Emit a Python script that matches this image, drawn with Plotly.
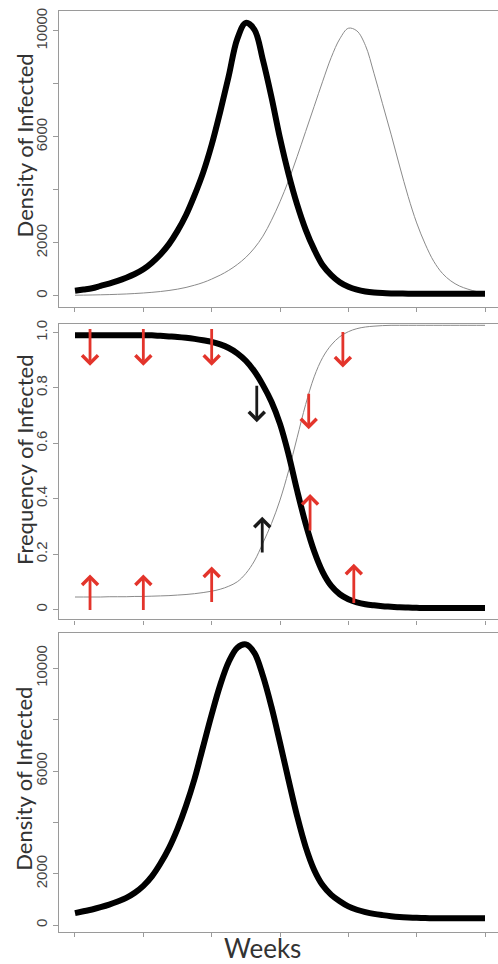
import plotly.graph_objects as go

# ---------------- data ----------------
weeks = [0, 0.125, 0.25, 0.375, 0.5, 0.625, 0.75, 0.875,
         1.0, 1.125, 1.25, 1.375, 1.5, 1.625, 1.75, 1.875,
         2.0, 2.125, 2.25, 2.375, 2.5, 2.625, 2.75, 2.875,
         3.0, 3.125, 3.25, 3.375, 3.5, 3.625, 3.75, 3.875,
         4.0, 4.125, 4.25, 4.375, 4.5, 4.625, 4.75, 4.875,
         5.0, 5.125, 5.25, 5.375, 5.5, 5.625, 5.75, 5.875, 6.0]

# Panel 1: density of infected (two strains)
dens_thick = [190, 235, 285, 375, 460, 560, 680, 820,
              1000, 1250, 1560, 1950, 2450, 3050, 3800, 4650,
              5700, 6950, 8300, 9700, 10300, 10050, 8900, 7500,
              5950, 4600, 3450, 2500, 1750, 1150, 780, 510,
              340, 230, 160, 120, 100, 90, 85, 80,
              80, 80, 80, 80, 80, 80, 80, 80, 80]
dens_thin = [20, 25, 30, 37, 45, 55, 68, 85,
             105, 130, 160, 200, 250, 315, 400, 500,
             630, 780, 960, 1180, 1450, 1800, 2250, 2850,
             3550, 4350, 5250, 6200, 7150, 8100, 9000, 9700,
             10100, 10000, 9450, 8400, 7250, 6100, 4900, 3750,
             2750, 1950, 1300, 850, 560, 370, 250, 160, 100]

# Panel 2: frequency of infected
freq_thick = [0.99, 0.99, 0.99, 0.99, 0.99, 0.99, 0.99, 0.99,
              0.99, 0.99, 0.988, 0.986, 0.984, 0.981, 0.977, 0.972,
              0.966, 0.957, 0.944, 0.925, 0.898, 0.86, 0.81, 0.75,
              0.67, 0.56, 0.43, 0.31, 0.21, 0.135, 0.085, 0.055,
              0.037, 0.026, 0.019, 0.015, 0.012, 0.010, 0.008, 0.007,
              0.006, 0.005, 0.005, 0.005, 0.005, 0.005, 0.005, 0.005, 0.005]
freq_thin = [0.045, 0.045, 0.045, 0.045, 0.046, 0.046, 0.046, 0.047,
             0.047, 0.048, 0.049, 0.050, 0.052, 0.054, 0.057, 0.061,
             0.066, 0.073, 0.084, 0.100, 0.130, 0.175, 0.240, 0.310,
             0.395, 0.500, 0.620, 0.740, 0.840, 0.910, 0.955, 0.985,
             1.003, 1.014, 1.020, 1.023, 1.025, 1.026, 1.026, 1.026,
             1.026, 1.026, 1.026, 1.026, 1.026, 1.026, 1.026, 1.026, 1.026]

# Panel 3: density of infected (single)
dens_single = [470, 540, 610, 700, 800, 920, 1060, 1260,
               1530, 1900, 2400, 3000, 3750, 4650, 5700, 6950,
               8200, 9350, 10250, 10800, 10930, 10600, 9700, 8500,
               7100, 5650, 4250, 3050, 2150, 1550, 1180, 930,
               730, 600, 510, 440, 390, 350, 320, 300,
               285, 275, 270, 265, 265, 265, 265, 265, 265]

# Arrows in panel 2: (week, tail freq, head freq, colour)
arrow_week = [0.22, 1.0, 2.0, 3.92, 3.42, 0.22, 1.0, 2.0, 3.44, 4.08, 2.66, 2.74]
arrow_tail = [1.018, 1.018, 1.018, 1.007, 0.784, -0.007, -0.007, 0.022, 0.28, 0.018, 0.813, 0.20]
arrow_head = [0.88, 0.88, 0.88, 0.874, 0.651, 0.126, 0.126, 0.155, 0.417, 0.165, 0.676, 0.335]
arrow_color = ["red"] * 10 + ["black"] * 2

density_ticks = [0, 2000, 4000, 6000, 8000, 10000]
density_ticktext = ["0", "2000", "", "6000", "", "10000"]
freq_ticks = [0, 0.2, 0.4, 0.6, 0.8, 1.0]
freq_ticktext = ["0", "0.2", "0.4", "0.6", "0.8", "1.0"]
week_ticks = [0, 1, 2, 3, 4, 5, 6]

# ---------------- figure ----------------
W, H = 498, 964
AX = "#9a9a9a"
THIN = "#8a8a8a"
RED = "#e3342b"
TICKFONT = dict(family="Liberation Sans, Arial, sans-serif", size=15, color="#444")
TITLEFONT = dict(family="Lato, Open Sans, sans-serif", size=22, color="#333")

fig = go.Figure()

fig.add_trace(go.Scatter(x=weeks, y=dens_thin, mode="lines", line=dict(color=THIN, width=1, shape="spline"),
                         xaxis="x", yaxis="y", showlegend=False))
fig.add_trace(go.Scatter(x=weeks, y=dens_thick, mode="lines", line=dict(color="black", width=6, shape="spline"),
                         xaxis="x", yaxis="y", showlegend=False))
fig.add_trace(go.Scatter(x=weeks, y=freq_thin, mode="lines", line=dict(color=THIN, width=1, shape="spline"),
                         xaxis="x2", yaxis="y2", showlegend=False))
fig.add_trace(go.Scatter(x=weeks, y=freq_thick, mode="lines", line=dict(color="black", width=6, shape="spline"),
                         xaxis="x2", yaxis="y2", showlegend=False))
fig.add_trace(go.Scatter(x=weeks, y=dens_single, mode="lines", line=dict(color="black", width=6, shape="spline"),
                         xaxis="x3", yaxis="y3", showlegend=False))

xr = [-0.234, 6.19]
xdom = [59 / W, 1.0]


def pdom(top, bottom):
    return [1 - bottom / H, 1 - top / H]


def xax(anchor):
    return dict(domain=xdom, range=xr, anchor=anchor, showgrid=False, zeroline=False,
                showline=True, linecolor=AX, linewidth=1.3, mirror=True,
                ticks="outside", ticklen=4, tickcolor=AX, tickvals=week_ticks, showticklabels=False)


def yax(anchor, dom, rng, tv, tt):
    return dict(domain=dom, range=rng, anchor=anchor, showgrid=False, zeroline=False,
                showline=True, linecolor=AX, linewidth=1.3, mirror=False,
                ticks="outside", ticklen=5, tickcolor=AX, tickvals=tv, ticktext=tt,
                tickangle=-90, tickfont=TICKFONT)


fig.update_layout(
    width=W, height=H, margin=dict(l=0, r=0, t=0, b=0),
    paper_bgcolor="white", plot_bgcolor="white", showlegend=False,
    xaxis=xax("y"), xaxis2=xax("y2"), xaxis3=xax("y3"),
    yaxis=yax("x", pdom(7, 304), [-414, 10752], density_ticks, density_ticktext),
    yaxis2=yax("x2", pdom(321, 618), [-0.036, 1.032], freq_ticks, freq_ticktext),
    yaxis3=yax("x3", pdom(632, 932), [-271, 11357], density_ticks, density_ticktext),
)

annotations = []
for wk, t, h, c in zip(arrow_week, arrow_tail, arrow_head, arrow_color):
    col = RED if c == "red" else "#1a1a1a"
    annotations.append(dict(x=wk, y=h, ax=wk, ay=t, xref="x2", yref="y2", axref="x2", ayref="y2",
                            text="", showarrow=True, arrowhead=4, arrowsize=1.1, arrowwidth=2.8,
                            arrowcolor=col))

annotations.append(dict(text="Density of Infected", x=24 / W, y=1 - 142 / H, xref="paper", yref="paper",
                        textangle=-90, showarrow=False, font=TITLEFONT, xanchor="center", yanchor="middle"))
annotations.append(dict(text="Frequency of Infected", x=24 / W, y=1 - 458 / H, xref="paper", yref="paper",
                        textangle=-90, showarrow=False, font=TITLEFONT, xanchor="center", yanchor="middle"))
annotations.append(dict(text="Density of Infected", x=24 / W, y=1 - 778 / H, xref="paper", yref="paper",
                        textangle=-90, showarrow=False, font=TITLEFONT, xanchor="center", yanchor="middle"))
annotations.append(dict(text="Weeks", x=262 / W, y=1 - 948 / H, xref="paper", yref="paper",
                        showarrow=False, font=dict(family="Lato, Open Sans, sans-serif", size=26, color="#333"),
                        xanchor="center", yanchor="middle"))
fig.update_layout(annotations=annotations)

fig.write_html("out.html", config={"displayModeBar": False},
               post_script="document.body.style.margin='0';")
